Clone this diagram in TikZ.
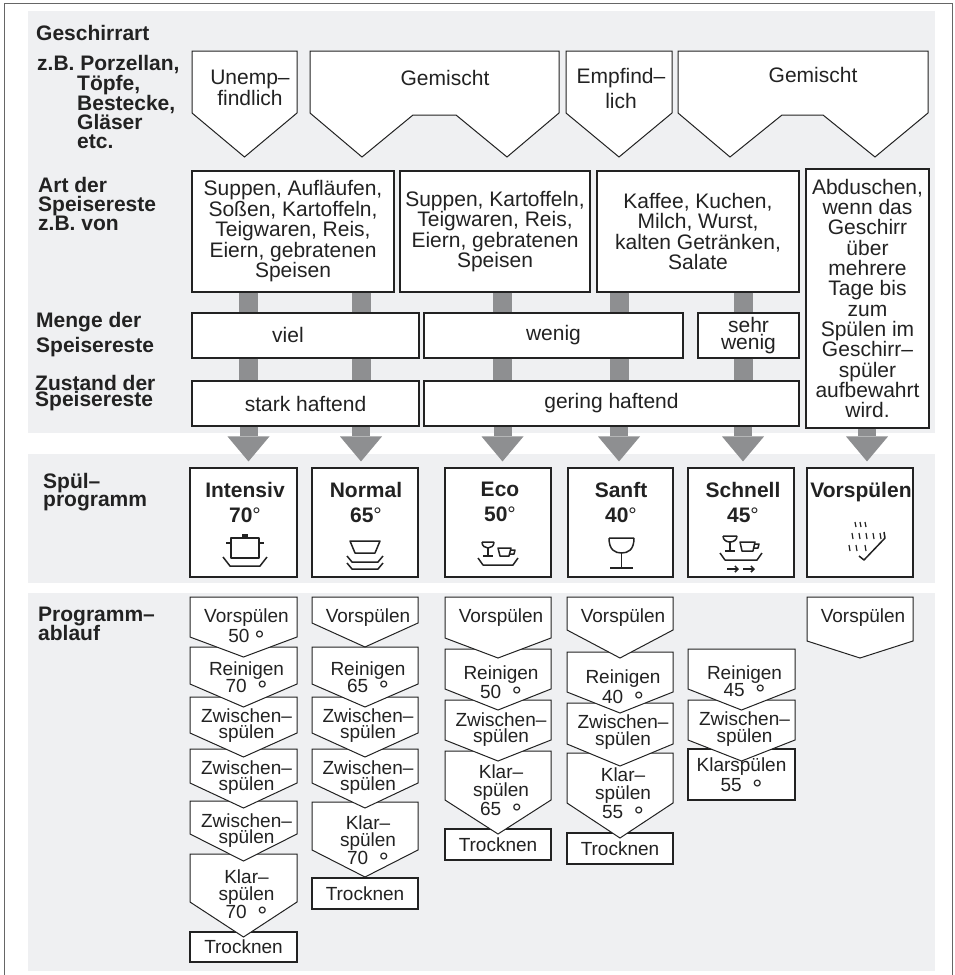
\documentclass[tikz,border=0pt]{standalone}
\usepackage{fontspec}
\setmainfont{Liberation Sans}
\usepackage{tikz}
\usetikzlibrary{arrows.meta}

\definecolor{panel}{HTML}{EFF0F2}
\definecolor{bargray}{HTML}{8E8F91}
\definecolor{ink}{HTML}{222222}

\newcommand{\boxfont}{\fontsize{21}{20.5}\selectfont}
\newcommand{\stepfont}{\fontsize{19}{17.5}\selectfont}
\newcommand{\labelfont}{\bfseries\fontsize{21}{19.5}\selectfont}
\newcommand{\stepdeg}{\raisebox{-6pt}[0pt][0pt]{\fontsize{25}{25}\selectfont °}}

% downward pointing box: x left, x right, y top, y shoulder, y tip
\newcommand{\chevron}[5]{%
  \path[chev] (#1,#3) -- (#2,#3) -- (#2,#4) -- ({(#1+#2)/2},#5) -- (#1,#4) -- cycle;}

\begin{document}
\begin{tikzpicture}[x=1pt, y=-1pt,
    box/.style={draw=ink, line width=1.1pt, fill=white, inner sep=0pt, align=center, font=\boxfont, text=ink},
    chev/.style={draw=ink, line width=1pt, fill=white},
    lbl/.style={anchor=north west, align=left, inner sep=0pt, font=\labelfont, text=ink},
    txt/.style={anchor=north, align=center, inner sep=0pt, font=\boxfont, text=ink},
    steptxt/.style={anchor=north, align=center, inner sep=0pt, font=\stepfont, text=ink},
    stepbox/.style={box, font=\stepfont},
    progname/.style={anchor=north, align=center, inner sep=0pt, font=\bfseries\fontsize{21}{25}\selectfont, text=ink},
    bar/.style={bargray, line width=19pt},
    bigarrow/.style={bargray, line width=18pt, -{Triangle[width=42pt, length=25pt, line width=0pt]}, shorten >=6pt},
    icon/.style={ink, line width=1.5pt, line join=round}]

    \useasboundingbox (0,0) rectangle (955,975);
    \draw[black!60, line width=1.5pt] (4.5,3.5) rectangle (952.5,980);
    \fill[panel] (28,11) rectangle (935,433);
    \fill[panel] (28,454) rectangle (935,583);
    \fill[panel] (28,593) rectangle (935,971);

    % row labels
    \node (lgeschirr) [lbl] at (36,25) {Geschirrart};
    \node (lzb) [lbl] at (37,55) {z.B. Porzellan,};
    \node (lbsp) [lbl] at (77,75) {Töpfe,\\[-0.5pt]Bestecke,\\[-0.5pt]Gläser\\[-0.5pt]etc.};
    \node (lart) [lbl] at (38,177) {Art der\\[-0.5pt]Speisereste\\[-0.5pt]z.B. von};
    \node (lmenge) [lbl] at (36,312) {Menge der\\[4.5pt]Speisereste};
    \node (lzustand) [lbl] at (35,375) {Zustand der\\[-3pt]Speisereste};
    \node (lprog) [lbl] at (43,473) {Spül–\\[-1.5pt]programm};
    \node (lablauf) [lbl] at (38,607) {Programm–\\[-1.5pt]ablauf};

    % Geschirrart
    \chevron{192}{297}{51}{113}{157}
    \path[chev] (310,51) -- (559,51) -- (559,113) -- (507,157) -- (456,115) -- (413,115) -- (362,157) -- (310,113) -- cycle;
    \chevron{566}{672}{51}{113}{157}
    \path[chev] (678,51) -- (928,51) -- (928,113) -- (875,157) -- (823,115) -- (782,115) -- (730,157) -- (678,113) -- cycle;
    \node (unempf) [txt] at (250,70) {Unemp–\\findlich};
    \node (gemischtA) [txt] at (445,70) {Gemischt};
    \node (empf) [txt] at (621,68) {Empfind–\\[4.5pt]lich};
    \node (gemischtB) [txt] at (813,67) {Gemischt};

    % Art der Speisereste
    \node (artA) [box, minimum width=202pt, minimum height=121pt] at (293,231.5) {Suppen, Aufläufen,\\Soßen, Kartoffeln,\\Teigwaren, Reis,\\Eiern, gebratenen\\Speisen};
    \node (artB) [box, minimum width=190pt, minimum height=121pt] at (495,231.5) {Suppen, Kartoffeln,\\Teigwaren, Reis,\\Eiern, gebratenen\\Speisen};
    \node (artC) [box, minimum width=202pt, minimum height=121pt] at (698,231.5) {Kaffee, Kuchen,\\Milch, Wurst,\\kalten Getränken,\\Salate};
    \node (artD) [box, minimum width=123pt, minimum height=259pt, font=\fontsize{21}{20.3}\selectfont] at (867.5,298.5) {Abduschen,\\wenn das\\Geschirr\\über\\mehrere\\Tage bis\\zum\\Spülen im\\Geschirr–\\spüler\\aufbewahrt\\wird.};

    % Menge und Zustand
    \node (viel) [box, minimum width=227pt, minimum height=45pt] at (305.5,335.5) {};
    \node (vieltext) [txt, anchor=base] at (288,342) {viel};
    \node (wenig) [box, minimum width=259pt, minimum height=45pt] at (553.5,335.5) {wenig};
    \node (sehrwenig) [box, minimum width=101pt, minimum height=45pt, font=\fontsize{21}{17.5}\selectfont] at (748.5,335.5) {sehr\\wenig};
    \node (stark) [box, minimum width=227pt, minimum height=45pt] at (305.5,403.5) {stark haftend};
    \node (gering) [box, minimum width=375pt, minimum height=45pt] at (611.5,403.5) {gering haftend};

    % Spuelprogramme
    \node (intensiv) [box, minimum width=107pt, minimum height=109pt] at (243.5,522.5) {};
    \node (normal) [box, minimum width=106pt, minimum height=109pt] at (365,522.5) {};
    \node (eco) [box, minimum width=106pt, minimum height=109pt] at (498,522.5) {};
    \node (sanft) [box, minimum width=105pt, minimum height=109pt] at (620.5,522.5) {};
    \node (schnell) [box, minimum width=106pt, minimum height=109pt] at (741,522.5) {};
    \node (vorsp) [box, minimum width=106pt, minimum height=109pt] at (860,522.5) {};
    \node (intensivname) [progname] at (245,482) {Intensiv\\70{\mdseries °}};
    \node (normalname) [progname] at (366,482) {Normal\\65{\mdseries °}};
    \node (econame) [progname] at (500,482) {Eco\\50{\mdseries °}};
    \node (sanftname) [progname] at (621,482) {Sanft\\40{\mdseries °}};
    \node (schnellname) [progname] at (743,482) {Schnell\\45{\mdseries °}};
    \node (vorspname) [progname] at (861,482) {Vorspülen};

    % icons
    \draw[icon] (231,538) rectangle (259,558);
    \fill[ink] (242,534) rectangle (248,538);
    \draw[icon] (226,543) -- (231,543) (259,543) -- (264,543);
    \draw[icon] (223,557) -- (230,566) -- (260,566) -- (267,557);

    \draw[icon] (350,541) -- (380,541) -- (375,553) -- (355,553) -- cycle;
    \draw[icon] (347,556) -- (352,562) -- (378,562) -- (383,556);
    \draw[icon] (347,563) -- (352,569) -- (378,569) -- (383,563);

    \draw[icon] (482,542) -- (494,542) (482,542) .. controls (482,550) and (494,550) .. (494,542);
    \draw[icon] (488,548) -- (488,556) (483,556) -- (493,556);
    \draw[icon] (498,548) -- (511,548) -- (509,556) -- (500,556) -- cycle;
    \draw[icon] (511,550) -- (515,550) -- (514,554) -- (510,554);
    \draw[icon] (478,558) -- (483,565) -- (513,565) -- (518,558);

    \draw[icon] (609,538) -- (634,538) (609,538) .. controls (609,550) and (615,553) .. (621.5,553) .. controls (628,553) and (634,550) .. (634,538);
    \draw[icon] (621.5,553) -- (621.5,568) (610,568) -- (633,568);

    \draw[icon] (723,536) -- (737,536) (723,536) .. controls (723,544) and (737,544) .. (737,536);
    \draw[icon] (730,542) -- (730,551) (725,551) -- (735,551);
    \draw[icon] (740,542) -- (755,542) -- (753,551) -- (742,551) -- cycle;
    \draw[icon] (755,544) -- (759,544) -- (758,548) -- (754,548);
    \draw[icon] (720,553) -- (725,560) -- (757,560) -- (762,553);
    \draw[icon, -{Straight Barb[length=3pt, width=6pt]}] (727,569) -- (739,569);
    \draw[icon, -{Straight Barb[length=3pt, width=6pt]}] (743,569) -- (755,569);

    \draw[icon, line width=1.2pt] (855,522) -- (856,527) (860,522) -- (861,527) (865,522) -- (866,527)
      (852,533) -- (853,539) (859,533) -- (860,539) (866,533) -- (867,539) (873,533) -- (874,539) (880,533) -- (881,539)
      (849,545) -- (850,551) (856,545) -- (857,551) (865,545) -- (866,551);
    \draw[icon] (859,556) -- (864,560) -- (885,538) -- (884,532);

    % Verbindungen
    \coordinate (c1) at (248.5,0);
    \coordinate (c2) at (361,0);
    \coordinate (c3) at (502.5,0);
    \coordinate (c4) at (619,0);
    \coordinate (c5) at (743,0);
    \coordinate (c6) at (867,0);

    \draw[bar] (c1 |- artA.south) -- (c1 |- viel.north);
    \draw[bar] (c2 |- artA.south) -- (c2 |- viel.north);
    \draw[bar] (c3 |- artB.south) -- (c3 |- wenig.north);
    \draw[bar] (c4 |- artC.south) -- (c4 |- wenig.north);
    \draw[bar] (c5 |- artC.south) -- (c5 |- sehrwenig.north);

    \draw[bar] (c1 |- viel.south) -- (c1 |- stark.north);
    \draw[bar] (c2 |- viel.south) -- (c2 |- stark.north);
    \draw[bar] (c3 |- wenig.south) -- (c3 |- gering.north);
    \draw[bar] (c4 |- wenig.south) -- (c4 |- gering.north);
    \draw[bar] (c5 |- sehrwenig.south) -- (c5 |- gering.north);

    \draw[bigarrow] (c1 |- stark.south) -- (c1 |- intensiv.north);
    \draw[bigarrow] (c2 |- stark.south) -- (c2 |- normal.north);
    \draw[bigarrow] (c3 |- gering.south) -- (c3 |- eco.north);
    \draw[bigarrow] (c4 |- gering.south) -- (c4 |- sanft.north);
    \draw[bigarrow] (c5 |- gering.south) -- (c5 |- schnell.north);
    \draw[bigarrow] (c6 |- artD.south) -- (c6 |- vorsp.north);

    % Programmablauf, von unten nach oben
    \node (intTrock) [stepbox, minimum width=107pt, minimum height=30pt] at (243.5,947) {Trocknen};
    \chevron{190}{297}{854}{902}{937}
    \chevron{190}{297}{801}{834}{861}
    \chevron{190}{297}{749}{783}{808}
    \chevron{190}{297}{697}{733}{757}
    \chevron{190}{297}{647}{684}{707}
    \chevron{190}{297}{597}{637}{657}

    \node (norTrock) [stepbox, minimum width=106pt, minimum height=31pt] at (365,893.5) {Trocknen};
    \chevron{312}{418}{802}{850}{877}
    \chevron{312}{418}{749}{783}{808}
    \chevron{312}{418}{697}{733}{757}
    \chevron{312}{418}{647}{684}{707}
    \chevron{312}{418}{597}{623}{647}

    \node (ecoTrock) [stepbox, minimum width=106pt, minimum height=31pt] at (498,844.5) {Trocknen};
    \chevron{445}{551}{751}{800}{834}
    \chevron{445}{551}{700}{740}{761}
    \chevron{445}{551}{649}{689}{710}
    \chevron{445}{551}{597}{638}{658}

    \node (sanTrock) [stepbox, minimum width=106pt, minimum height=31pt] at (620,848.5) {Trocknen};
    \chevron{567}{673}{753}{803}{838}
    \chevron{567}{673}{703}{744}{766}
    \chevron{567}{673}{652}{692}{713}
    \chevron{567}{673}{597}{630}{658}

    \node (schKlar) [stepbox, minimum width=107pt, minimum height=51pt, font=\fontsize{19}{20}\selectfont] at (741.5,774.5) {Klarspülen\\55\ \ \stepdeg};
    \chevron{688}{795}{700}{740}{761}
    \chevron{688}{795}{649}{689}{710}

    \chevron{807}{913}{597}{641}{658}

    \node (int1) [steptxt] at (246.5,608.5) {Vorspülen\\[2.5pt]50 \stepdeg};
    \node (int2) [steptxt] at (246.5,661.5) {Reinigen\\70\ \ \stepdeg};
    \node (int3) [steptxt] at (246.5,708.5) {Zwischen–\\[-1.5pt]spülen};
    \node (int4) [steptxt] at (246.5,760.5) {Zwischen–\\[-1.5pt]spülen};
    \node (int5) [steptxt] at (246.5,813.5) {Zwischen–\\[-1.5pt]spülen};
    \node (int6) [steptxt] at (246.5,869.5) {Klar–\\spülen\\70\ \ \stepdeg};

    \node (nor1) [steptxt] at (368,608.5) {Vorspülen};
    \node (nor2) [steptxt] at (368,661.5) {Reinigen\\65\ \ \stepdeg};
    \node (nor3) [steptxt] at (368,708.5) {Zwischen–\\[-1.5pt]spülen};
    \node (nor4) [steptxt] at (368,760.5) {Zwischen–\\[-1.5pt]spülen};
    \node (nor5) [steptxt] at (368,815.5) {Klar–\\spülen\\70\ \ \stepdeg};

    \node (eco1) [steptxt] at (501,608.5) {Vorspülen};
    \node (eco2) [steptxt] at (501,665.5) {Reinigen\\[1.5pt]50\ \ \stepdeg};
    \node (eco3) [steptxt] at (501,712.5) {Zwischen–\\[-1.5pt]spülen};
    \node (eco4) [steptxt] at (501,764.5) {Klar–\\[1pt]spülen\\[1pt]65\ \ \stepdeg};

    \node (san1) [steptxt] at (623,608.5) {Vorspülen};
    \node (san2) [steptxt] at (623,669.5) {Reinigen\\[2.5pt]40\ \ \stepdeg};
    \node (san3) [steptxt] at (623,714.5) {Zwischen–\\[-0.5pt]spülen};
    \node (san4) [steptxt] at (623,767.5) {Klar–\\[1pt]spülen\\[1pt]55\ \ \stepdeg};

    \node (sch1) [steptxt] at (744.5,665.5) {Reinigen\\45\ \ \stepdeg};
    \node (sch2) [steptxt] at (744.5,711.5) {Zwischen–\\spülen};

    \node (vor1) [steptxt] at (863,608.5) {Vorspülen};
\end{tikzpicture}
\end{document}
